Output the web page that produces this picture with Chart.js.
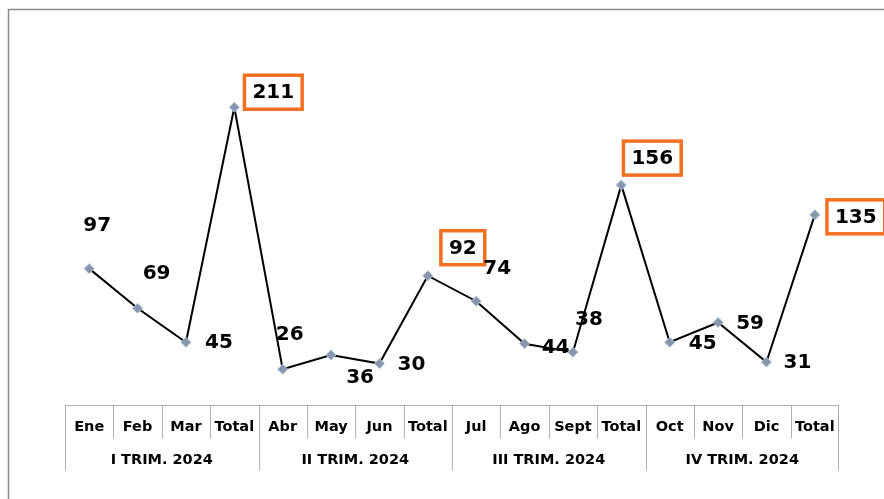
<!DOCTYPE html>
<html>
<head>
<meta charset="utf-8">
<script src="https://cdn.jsdelivr.net/npm/chart.js@4.4.1/dist/chart.umd.min.js"></script>
<style>
html,body{margin:0;padding:0;background:#fff;}
canvas{display:block;}
</style>
</head>
<body>
<canvas id="c" width="884" height="499"></canvas>
<script>
const months = ['Ene','Feb','Mar','Total','Abr','May','Jun','Total','Jul','Ago','Sept','Total','Oct','Nov','Dic','Total'];
const quarters = ['I TRIM. 2024','II TRIM. 2024','III TRIM. 2024','IV TRIM. 2024'];
const values = [97,69,45,211,26,36,30,92,74,44,38,156,45,59,31,135];
const boxed = [3,7,11,15];

// label placement offsets (layout only)
const labelOffsets = [[8,-44],[19,-35],[33,0],[39,-15],[7,-35],[29,22],[32,0],[35,-28],[21,-33],[31,3],[16,-33],[31,-27],[33,1],[32,0],[31,0],[41,2]];

const decor = {
  id:'decor',
  beforeDraw(chart){
    const ctx = chart.ctx;
    ctx.save();
    ctx.fillStyle='#fff';
    ctx.fillRect(0,0,chart.width,chart.height);
    ctx.strokeStyle='#8c8c8c';
    ctx.lineWidth=1.5;
    ctx.beginPath();
    ctx.moveTo(8.5,499);ctx.lineTo(8.5,9.5);ctx.lineTo(884,9.5);
    ctx.stroke();
    ctx.restore();
  },
  afterDraw(chart){
    const ctx = chart.ctx;
    const xs = chart.scales.x;
    const ca = chart.chartArea;
    const top = Math.round(ca.bottom)-0.5;
    const midY = top+33, botY = top+65;
    ctx.save();
    ctx.strokeStyle='#b0b0b0';
    ctx.lineWidth=1;
    ctx.beginPath();
    ctx.moveTo(ca.left,top);ctx.lineTo(ca.right,top);
    const L=Math.round(ca.left)+0.5, R=Math.round(ca.right)-0.5;
    ctx.moveTo(L,top);ctx.lineTo(L,botY);
    ctx.moveTo(R,top);ctx.lineTo(R,botY);
    for(let i=1;i<months.length;i++){
      const x=Math.round((xs.getPixelForValue(i-1)+xs.getPixelForValue(i))/2)+0.5;
      ctx.moveTo(x,top);
      ctx.lineTo(x, i%4===0?botY:midY);
    }
    ctx.stroke();
    ctx.fillStyle='#000';
    ctx.textAlign='center';
    ctx.textBaseline='middle';
    ctx.font='bold 14.5px "DejaVu Sans"';
    months.forEach((m,i)=>{ctx.fillText(m,xs.getPixelForValue(i),top+22);});
    quarters.forEach((q,k)=>{
      const x=(xs.getPixelForValue(4*k)+xs.getPixelForValue(4*k+3))/2;
      ctx.fillText(q,x,top+55);
    });
    // data labels
    const meta = chart.getDatasetMeta(0);
    ctx.font='bold 20px "DejaVu Sans"';
    meta.data.forEach((pt,i)=>{
      const x=pt.x+labelOffsets[i][0], y=pt.y+labelOffsets[i][1];
      const txt=String(values[i]);
      if(boxed.includes(i)){
        const w=ctx.measureText(txt).width+16, h=34;
        ctx.fillStyle='#fff';
        ctx.fillRect(x-w/2,y-h/2,w,h);
        ctx.strokeStyle='#F36F21';
        ctx.lineWidth=3.5;
        ctx.strokeRect(x-w/2,y-h/2,w,h);
      }
      ctx.fillStyle='#000';
      ctx.fillText(txt,x,y+1);
    });
    ctx.restore();
  }
};

new Chart(document.getElementById('c'),{
  type:'line',
  data:{
    labels:months,
    datasets:[{
      data:values,
      borderColor:'#000',
      borderWidth:2,
      tension:0,
      pointStyle:'rectRot',
      pointRadius:5,
      pointBackgroundColor:'#8796ab',
      pointBorderColor:'#a9c1dc',
      pointBorderWidth:1
    }]
  },
  options:{
    responsive:false,
    animation:false,
    layout:{padding:{left:65,right:45,top:52,bottom:93}},
    plugins:{legend:{display:false},tooltip:{enabled:false}},
    scales:{
      x:{type:'category',display:false,offset:true},
      y:{display:false,min:0,max:250}
    }
  },
  plugins:[decor]
});
</script>
</body>
</html>
